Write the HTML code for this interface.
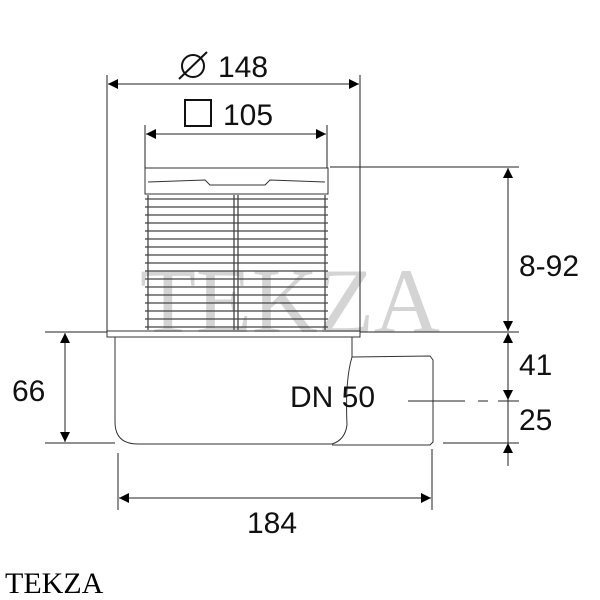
<!DOCTYPE html>
<html><head><style>body{margin:0;background:#fff}svg{display:block}</style></head><body>
<svg width="600" height="600" viewBox="0 0 600 600" xmlns="http://www.w3.org/2000/svg">
<defs><marker id="a" viewBox="0 0 10 10" refX="10" refY="5" markerWidth="20" markerHeight="10" markerUnits="userSpaceOnUse" orient="auto-start-reverse"><path d="M0,0L10,5L0,10z" fill="#000"/></marker></defs>
<text x="290" y="332" font-family="Liberation Serif,serif" font-size="92" fill="#d4d4d4" text-anchor="middle" textLength="300" lengthAdjust="spacingAndGlyphs">TEKZA</text>
<g stroke="#333" fill="none" stroke-width="1">
<rect x="145" y="168" width="183" height="26"/>
<path d="M148,182 L205,180 L210,185 L265,185 L270,180 L325,182"/>
<rect x="107" y="331" width="253" height="6"/>
<path d="M115,337 V422 Q115,444 138,444 H332 Q345,440 347,425 Q345,380 352,357 V337"/>
<path d="M352,357 L430,356 L433,360 V442 L430,445 L332,445"/>
</g>
<g stroke="#444" stroke-width="1.3" fill="none">
<line x1="145" y1="199" x2="328" y2="199"/><line x1="145" y1="207" x2="328" y2="207"/><line x1="145" y1="215" x2="328" y2="215"/><line x1="145" y1="223" x2="328" y2="223"/><line x1="145" y1="231" x2="328" y2="231"/><line x1="145" y1="239" x2="328" y2="239"/><line x1="145" y1="247" x2="328" y2="247"/><line x1="145" y1="255" x2="328" y2="255"/><line x1="145" y1="263" x2="328" y2="263"/><line x1="145" y1="271" x2="328" y2="271"/><line x1="145" y1="279" x2="328" y2="279"/><line x1="145" y1="287" x2="328" y2="287"/><line x1="145" y1="295" x2="328" y2="295"/><line x1="145" y1="303" x2="328" y2="303"/><line x1="145" y1="311" x2="328" y2="311"/><line x1="145" y1="319" x2="328" y2="319"/><line x1="145" y1="327" x2="328" y2="327"/>
<line x1="148" y1="195" x2="148" y2="330"/><line x1="325" y1="195" x2="325" y2="330"/>
<line x1="234" y1="195" x2="234" y2="330"/><line x1="238" y1="195" x2="238" y2="330"/>
</g>
<g stroke="#222" stroke-width="1" fill="none">
<line x1="107" y1="75" x2="107" y2="331"/><line x1="360" y1="75" x2="360" y2="331"/>
<line x1="108" y1="84" x2="359" y2="84" marker-start="url(#a)" marker-end="url(#a)"/>
<line x1="145" y1="125" x2="145" y2="168"/><line x1="327" y1="125" x2="327" y2="168"/>
<line x1="146" y1="134" x2="326" y2="134" marker-start="url(#a)" marker-end="url(#a)"/>
<line x1="330" y1="167" x2="519" y2="167"/><line x1="360" y1="332" x2="519" y2="332"/>
<line x1="508" y1="168" x2="508" y2="331" marker-start="url(#a)" marker-end="url(#a)"/>
<line x1="508" y1="333" x2="508" y2="400" marker-start="url(#a)" marker-end="url(#a)"/>
<line x1="508" y1="443" x2="508" y2="466" marker-start="url(#a)"/>
<line x1="508" y1="400" x2="508" y2="443"/>
<line x1="443" y1="443" x2="519" y2="443"/>
<line x1="408" y1="401" x2="465" y2="401"/><line x1="478" y1="401" x2="488" y2="401"/><line x1="498" y1="401" x2="519" y2="401"/>
<line x1="45" y1="332" x2="107" y2="332"/><line x1="45" y1="443" x2="115" y2="443"/>
<line x1="65" y1="333" x2="65" y2="442" marker-start="url(#a)" marker-end="url(#a)"/>
<line x1="118" y1="453" x2="118" y2="510"/><line x1="432" y1="449" x2="432" y2="510"/>
<line x1="119" y1="498" x2="431" y2="498" marker-start="url(#a)" marker-end="url(#a)"/>
</g>
<g font-family="Liberation Sans,sans-serif" font-size="30" fill="#111">
<circle cx="193" cy="66" r="11" fill="none" stroke="#111" stroke-width="2"/>
<line x1="179" y1="79" x2="207" y2="52" stroke="#111" stroke-width="2"/>
<text x="218" y="77">148</text>
<rect x="185" y="100" width="26" height="26" fill="none" stroke="#111" stroke-width="2"/>
<text x="223" y="125">105</text>
<text x="519" y="276">8-92</text>
<text x="519" y="375">41</text>
<text x="519" y="430">25</text>
<text x="12" y="401">66</text>
<text x="247" y="533">184</text>
<text x="290" y="407">DN 50</text>
</g>
<text x="5" y="593" font-family="Liberation Serif,serif" font-size="30" fill="#000">TEKZA</text>
</svg>
</body></html>
